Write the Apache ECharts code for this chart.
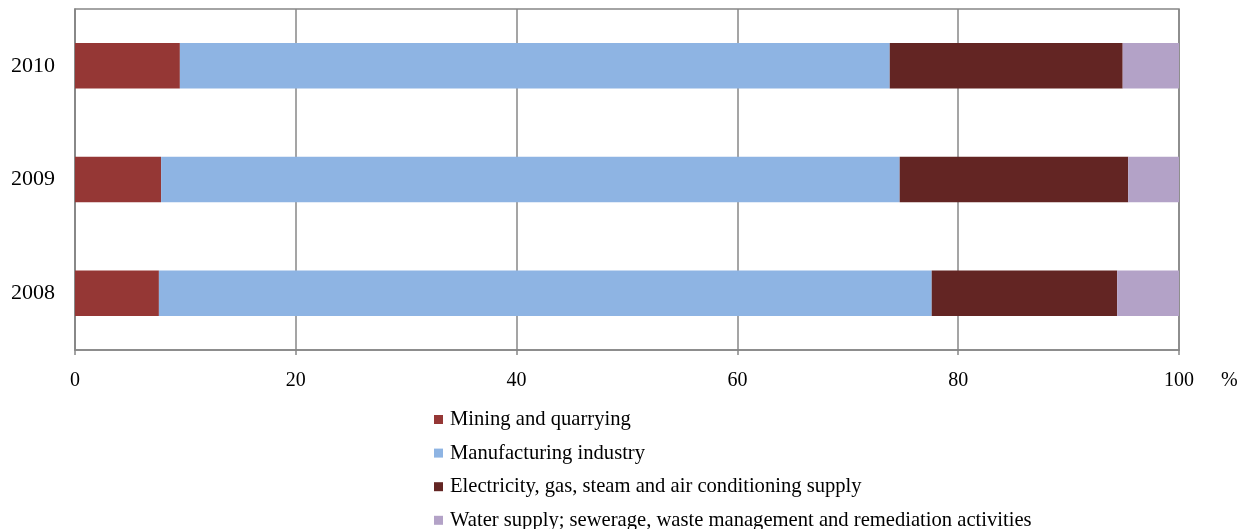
<!DOCTYPE html>
<html><head><meta charset="utf-8">
<script src="https://cdn.jsdelivr.net/npm/echarts@6/dist/echarts.min.js"></script>
<style>html,body{margin:0;padding:0;background:#fff}#c{width:1246px;height:529px}</style>
</head><body><div id="c"></div>
<script>
const years = ['2008', '2009', '2010'];
const mining = [7.6, 7.8, 9.5];
const manufacturing = [70.0, 66.9, 64.3];
const electricity = [16.8, 20.7, 21.1];
const water = [5.6, 4.6, 5.1];
const xTicks = [0, 20, 40, 60, 80, 100];
const names = ['Mining and quarrying', 'Manufacturing industry',
  'Electricity, gas, steam and air conditioning supply',
  'Water supply; sewerage, waste management and remediation activities'];
const colors = ['#953735', '#8EB4E3', '#632523', '#B3A2C7'];
const font = 'Liberation Serif';
const chart = echarts.init(document.getElementById('c'));
const mk = (i, d) => ({
  name: names[i], type: 'bar', stack: 'all', data: d, barWidth: '40%',
  itemStyle: { color: colors[i] }
});
chart.setOption({
  animation: false,
  color: colors,
  grid: { left: 75, right: 67, top: 9, bottom: 179, show: true, borderColor: '#878787', borderWidth: 1.5 },
  xAxis: {
    type: 'value', min: xTicks[0], max: xTicks[xTicks.length - 1], interval: 20,
    axisLine: { show: true, lineStyle: { color: '#878787', width: 1.5 } },
    axisTick: { show: true, length: 5, lineStyle: { color: '#878787', width: 1.5 } },
    splitLine: { show: true, lineStyle: { color: '#878787', width: 1.5 } },
    axisLabel: { color: '#000', fontFamily: font, fontSize: 20, margin: 21 }
  },
  yAxis: {
    type: 'category', data: years,
    axisLine: { show: true, lineStyle: { color: '#878787', width: 1.5 } },
    axisTick: { show: false },
    axisLabel: { color: '#000', fontFamily: font, fontSize: 22, margin: 20, padding: [3, 0, 0, 0] }
  },
  legend: {
    orient: 'vertical', left: 434, top: 409, height: 125, padding: 0,
    itemWidth: 9, itemHeight: 9, itemGap: 12.6, icon: 'rect',
    textStyle: { fontFamily: font, fontSize: 20.6, color: '#000', padding: [0, 0, 0, 2] },
    data: names
  },
  graphic: [{ type: 'text', left: 1221, top: 371, style: { text: '%', fontFamily: font, fontSize: 20, fill: '#000' } }],
  series: [mk(0, mining), mk(1, manufacturing), mk(2, electricity), mk(3, water)]
});
</script></body></html>
